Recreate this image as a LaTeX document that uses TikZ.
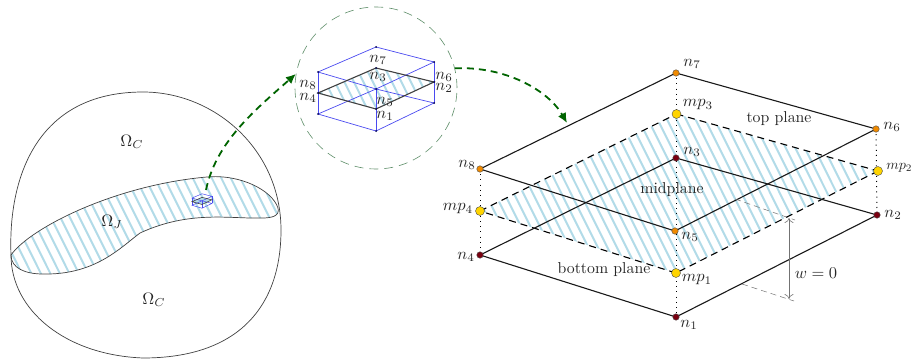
\documentclass[tikz,border=0pt]{standalone}
\usetikzlibrary{arrows.meta}
\definecolor{hatchblue}{HTML}{B2DBE8}
\definecolor{dgreen}{HTML}{006400}
\definecolor{lensgreen}{HTML}{5F8F6A}
\definecolor{cubeblue}{HTML}{4A4AF0}
\definecolor{topdot}{HTML}{F08A00}
\definecolor{botdot}{HTML}{7A0010}
\definecolor{middot}{HTML}{FFD400}
\newcommand{\hatchfill}{%
  \foreach \hx in {-200,-190.5,...,910}{
    \draw[hatchline] (\hx,0) -- ++(180,361);
  }}
\newcommand{\outerpath}{(11,255) .. controls (8,180) and (35,92) .. (143,92) .. controls (215,92) and (281,150) .. (281,230) .. controls (281,305) and (240,358) .. (143,358) .. controls (65,355) and (11,310) .. (11,255) -- cycle}
\newcommand{\innerpath}{(11,255) .. controls (30,228) and (115,185) .. (207,177) .. controls (240,174) and (272,190) .. (278,208) .. controls (280,216) and (272,218) .. (262,218) .. controls (230,219) and (190,210) .. (140,233) .. controls (120,248) and (95,275) .. (43,274) .. controls (25,274) and (11,268) .. (11,255) -- cycle}
\tikzset{
  x=1pt,y=-1pt,
  lbl/.style={scale=1.58,transform shape,inner sep=0pt,text=black!85},
  mlbl/.style={scale=1.65,transform shape,inner sep=0pt,text=black!85},
  hatchline/.style={hatchblue,line width=2pt},
  blob/.style={draw=black!75,line width=.7pt},
  edge3d/.style={black!90,line width=1.1pt},
  midedge/.style={black,line width=1.1pt,dash pattern=on 7pt off 5pt},
  vertical/.style={black,line width=1pt,dash pattern=on 1pt off 4.2pt},
  topn/.style={circle,inner sep=0pt,draw=black!70,fill=topdot,minimum size=6.5pt,line width=.4pt},
  botn/.style={circle,inner sep=0pt,draw=black!70,fill=botdot,minimum size=6.5pt,line width=.4pt},
  midn/.style={circle,inner sep=0pt,draw=black!70,fill=middot,minimum size=9pt,line width=.4pt},
  cubedot/.style={circle,inner sep=0pt,fill=black!70!blue,minimum size=2pt},
  cubeline/.style={cubeblue,line width=.7pt},
  cubemid/.style={black!75,line width=1.1pt},
  greenarrow/.style={dgreen,line width=1.8pt,dash pattern=on 7pt off 5pt,-{Latex[length=10pt,width=9pt]}},
  measure/.style={black!55,line width=.6pt},
  measuredash/.style={black!55,line width=.5pt,dash pattern=on 6pt off 4pt},
}
\begin{document}
\begin{tikzpicture}
\useasboundingbox (0,0) rectangle (913,361);
% ---------- left domain
\begin{scope}
  \clip \innerpath;
  \hatchfill
\end{scope}
\draw[blob] \innerpath;
\draw[blob] \outerpath;
\node[mlbl] (oc1) at (132,142) {$\Omega_C$};
\node[mlbl] (oj) at (112,222) {$\Omega_J$};
\node[mlbl] (oc2) at (154,300) {$\Omega_C$};
% ---------- tiny element in the domain
\begin{scope}[shift={(202,201)},scale=.172]
  \fill[hatchblue] (-58,4) -- (0,-21) -- (58,-7) -- (0,20) -- cycle;
  \draw[cubeline,line width=.5pt] (-58,-17) -- (0,-42) -- (58,-27) -- (0,-1) -- cycle;
  \draw[cubeline,line width=.5pt] (-58,25) -- (0,42) -- (58,14) -- (0,-1) -- cycle;
  \draw[cubeline,line width=.5pt] (-58,-17) -- (-58,25) (58,-27) -- (58,14) (0,-1) -- (0,42);
  \draw[cubemid,line width=.6pt] (-58,4) -- (0,-21) -- (58,-7) -- (0,20) -- cycle;
\end{scope}
% ---------- magnified element
\node[circle,inner sep=0pt,draw=lensgreen,line width=.6pt,dash pattern=on 9pt off 6pt,minimum size=162pt] (lens) at (376,88) {};
\coordinate (c7) at (376,47);
\coordinate (c8) at (318,72);
\coordinate (c6) at (434,62);
\coordinate (c5) at (376,89);
\coordinate (c3) at (376,68);
\coordinate (c4) at (318,93);
\coordinate (c2) at (434,82);
\coordinate (c1) at (376,109);
\coordinate (b4) at (318,114);
\coordinate (b2) at (434,103);
\coordinate (b1) at (376,131);
\begin{scope}
  \clip (c4) -- (c3) -- (c2) -- (c1) -- cycle;
  \hatchfill
\end{scope}
\draw[cubeline] (c8) -- (c7) -- (c6) -- (c5) -- cycle;
\draw[cubeline] (b4) -- (b1) -- (b2) -- (c5) -- cycle;
\draw[cubeline] (c8) -- (b4) (c6) -- (b2) (c5) -- (b1);
\draw[cubemid] (c4) -- (c3) -- (c2) -- (c1) -- cycle;
\foreach \p in {c1,c2,c3,c4,c5,c6,c7,c8,b1,b2,b4}{\node[cubedot] at (\p) {};}
\node[mlbl] (l7) at (378,60) {$n_7$};
\node[mlbl] (l3) at (378,77) {$n_3$};
\node[mlbl] (l8) at (308,85) {$n_8$};
\node[mlbl] (l4) at (308,98) {$n_4$};
\node[mlbl] (l6) at (444,77) {$n_6$};
\node[mlbl] (l2) at (444,88) {$n_2$};
\node[mlbl] (l5) at (385,102) {$n_5$};
\node[mlbl] (l1) at (385,116) {$n_1$};
% ---------- main element
\coordinate (P7) at (676,73);
\coordinate (P6) at (876,129);
\coordinate (P8) at (480,169);
\coordinate (P5) at (675,231);
\coordinate (P3) at (676,158);
\coordinate (P2) at (877,215);
\coordinate (P4) at (480,255);
\coordinate (P1) at (676,317);
\coordinate (M3) at (676.5,114);
\coordinate (M2) at (878,171);
\coordinate (M4) at (480,211);
\coordinate (M1) at (676,273);
\begin{scope}
  \clip (M4) -- (M3) -- (M2) -- (M1) -- cycle;
  \hatchfill
\end{scope}
\draw[vertical] (P8) -- (P4);
\draw[vertical] (P7) -- (P1);
\draw[vertical] (P6) -- (P2);
\draw[midedge] (M4) -- (M3);
\draw[midedge] (M3) -- (M2);
\draw[midedge] (M2) -- (M1);
\draw[midedge] (M1) -- (M4);
\draw[edge3d] (P4) -- (P1) -- (P2) -- (P3) -- cycle;
\draw[edge3d] (P8) -- (P7) -- (P6) -- (P5) -- cycle;
\node[topn] (n7) at (P7) {};
\node[topn] (n6) at (P6) {};
\node[topn] (n8) at (P8) {};
\node[topn] (n5) at (P5) {};
\node[botn] (n3) at (P3) {};
\node[botn] (n2) at (P2) {};
\node[botn] (n4) at (P4) {};
\node[botn] (n1) at (P1) {};
\node[midn] (mp3) at (M3) {};
\node[midn] (mp2) at (M2) {};
\node[midn] (mp4) at (M4) {};
\node[midn] (mp1) at (M1) {};
\node[mlbl] (t7) at (692,64) {$n_7$};
\node[mlbl] (t6) at (892,127) {$n_6$};
\node[mlbl] (t8) at (467,165) {$n_8$};
\node[mlbl] (t5) at (690,237) {$n_5$};
\node[mlbl] (t3) at (692,152) {$n_3$};
\node[mlbl] (t2) at (893,215) {$n_2$};
\node[mlbl] (t4) at (466,257) {$n_4$};
\node[mlbl] (t1) at (689,325) {$n_1$};
\node[mlbl] (tm3) at (698,105) {$mp_3$};
\node[inner sep=0pt,scale=1.42,transform shape,text=black!85,anchor=west] (tm2) at (886,168) {$mp_2$};
\node[mlbl] (tm4) at (458,209) {$mp_4$};
\node[mlbl] (tm1) at (697,280) {$mp_1$};
\node[lbl] (ptop) at (779,119) {top plane};
\node[lbl] (pmid) at (672,190) {midplane};
\node[lbl] (pbot) at (604,270) {bottom plane};
% ---------- thickness
\coordinate (wa) at (789,218);
\coordinate (wb) at (789,299);
\coordinate (da1) at (735,199);
\coordinate (da2) at (795,220);
\coordinate (db1) at (742,284);
\coordinate (db2) at (794,301);
\draw[measuredash] (da1) -- (da2);
\draw[measuredash] (db1) -- (db2);
\draw[measure,{To[length=5pt,width=9pt]}-{To[length=5pt,width=9pt]}] (wa) -- (wb);
\node[mlbl] (wl) at (816,273) {$w=0$};
% ---------- zoom arrows
\coordinate (astart) at (206,190);
\coordinate (bend) at (567,123);
\draw[greenarrow] (astart) .. controls (216,142) and (255,110) .. (lens.170);
\draw[greenarrow] (lens.14) .. controls (505,66) and (548,90) .. (bend);
\end{tikzpicture}
\end{document}
